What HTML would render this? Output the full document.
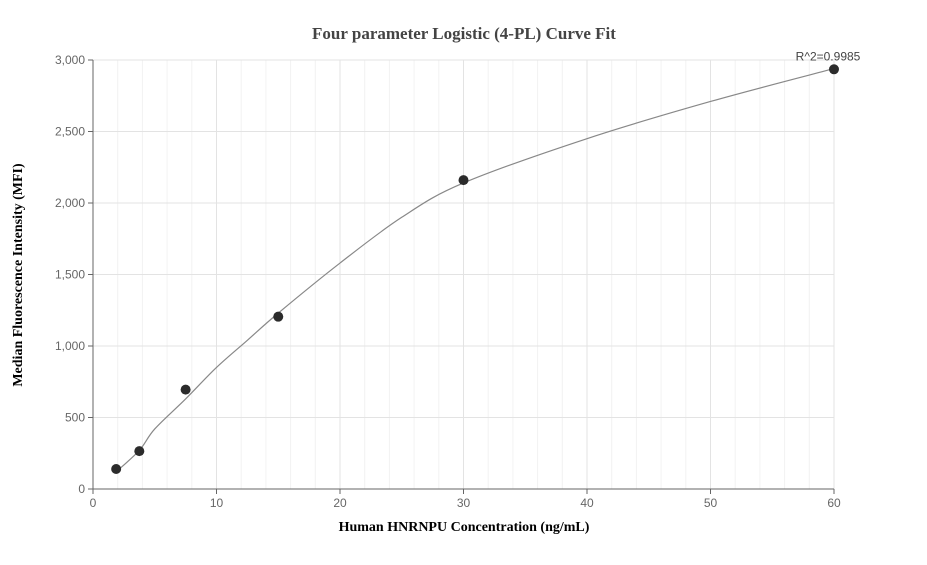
<!DOCTYPE html>
<html><head><meta charset="utf-8"><style>
body{margin:0;background:#fff;font-family:"Liberation Sans",sans-serif}
</style></head><body>
<svg id="chart" width="927" height="560" xmlns="http://www.w3.org/2000/svg">
<text x="464" y="39" text-anchor="middle" font-family="Liberation Serif" font-weight="bold" font-size="17" fill="#444">Four parameter Logistic (4-PL) Curve Fit</text>
<text x="464" y="531" text-anchor="middle" font-family="Liberation Serif" font-weight="bold" font-size="14" fill="#000">Human HNRNPU Concentration (ng/mL)</text>
<text transform="translate(22,275) rotate(-90)" text-anchor="middle" font-family="Liberation Serif" font-weight="bold" font-size="14" fill="#000">Median Fluorescence Intensity (MFI)</text>
<g id="grid"></g><g id="axes"></g><g id="marks"></g>
</svg>
<script>
const xTicks=[0,10,20,30,40,50,60];
const yTicks=[0,500,1000,1500,2000,2500,3000];
const concentrations=[1.875,3.75,7.5,15,30,60];
const mfiValues=[140,265,695,1205,2160,2935];
const fitX=[1.875,3.75,5,7.5,10,12.5,15,20,25,30,40,50,60];
const fitY=[120,270,420,630,850,1040,1230,1580,1900,2140,2450,2710,2940];
const r2Label="R^2=0.9985";
const X0=93,X1=834,Y0=489,Y1=60;
const sx=v=>X0+(X1-X0)*v/60, sy=v=>Y0-(Y0-Y1)*v/3000;
const NS="http://www.w3.org/2000/svg";
function mk(tag,parent,attrs){const e=document.createElementNS(NS,tag);for(const k in attrs)e.setAttribute(k,attrs[k]);document.getElementById(parent).appendChild(e);return e;}
for(let v=2;v<60;v+=2){if(v%10===0)continue;const l=mk('line','grid',{x1:sx(v),x2:sx(v),y1:Y1,y2:Y0,stroke:'#f2f2f2'});

}
xTicks.forEach(v=>{if(v>0){const l=mk('line','grid',{x1:sx(v),x2:sx(v),y1:Y1,y2:Y0,stroke:'#e3e3e3'});

}
mk('line','axes',{x1:sx(v),x2:sx(v),y1:Y0,y2:Y0+5,stroke:'#666'});
const t=mk('text','axes',{x:sx(v),y:Y0+18,'text-anchor':'middle','font-size':12,fill:'#666'});t.textContent=v;

});
yTicks.forEach(v=>{if(v>0){const l=mk('line','grid',{x1:X0,x2:X1,y1:sy(v),y2:sy(v),stroke:'#e3e3e3'});

}
mk('line','axes',{x1:X0-5,x2:X0,y1:sy(v),y2:sy(v),stroke:'#666'});
const t=mk('text','axes',{x:X0-8,y:sy(v)+4,'text-anchor':'end','font-size':12,fill:'#666'});t.textContent=v.toLocaleString('en-US');

});
const ya=mk('line','axes',{x1:X0,x2:X0,y1:Y1,y2:Y0,stroke:'#666'});


const xa=mk('line','axes',{x1:X0,x2:X1,y1:Y0,y2:Y0,stroke:'#666'});


// smooth curve (Catmull-Rom)
const P=fitX.map((x,i)=>[sx(x),sy(fitY[i])]);
let d=`M${P[0][0]},${P[0][1]}`;
for(let i=0;i<P.length-1;i++){const p0=P[i-1]||P[i],p1=P[i],p2=P[i+1],p3=P[i+2]||p2;
d+=` C${p1[0]+(p2[0]-p0[0])/6},${p1[1]+(p2[1]-p0[1])/6} ${p2[0]-(p3[0]-p1[0])/6},${p2[1]-(p3[1]-p1[1])/6} ${p2[0]},${p2[1]}`;}
const c=mk('path','marks',{d:d,fill:'none',stroke:'#888','stroke-width':1.2});


concentrations.forEach((x,i)=>{const p=mk('circle','marks',{cx:sx(x),cy:sy(mfiValues[i]),r:5,fill:'#2b2b2b'});

});
const r=mk('text','marks',{x:sx(60)-6,y:sy(mfiValues[5])-9,'text-anchor':'middle','font-size':12,fill:'#444'});r.textContent=r2Label;


</script>
</body></html>
